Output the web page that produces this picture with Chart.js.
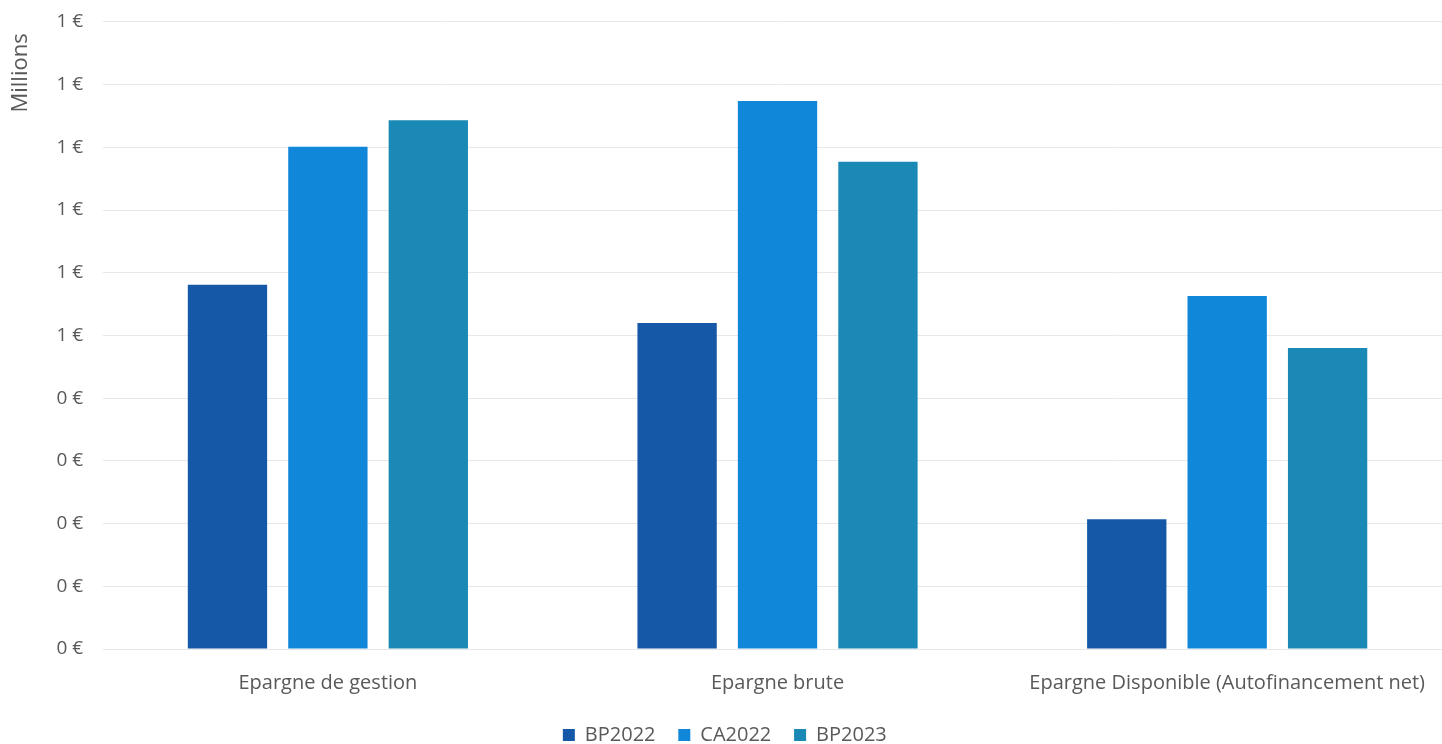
<!DOCTYPE html>
<html lang="fr">
<head>
<meta charset="utf-8">
<script src="https://cdn.jsdelivr.net/npm/chart.js@4"></script>
<style>
    html, body { margin: 0; padding: 0; background: #fff; overflow: hidden; }
    #wrap { width: 1452px; height: 744px; position: relative; }
</style>
</head>
<body>
<div id="wrap"><canvas id="chart"></canvas></div>
<script>
// catégories et séries (en millions d'euros)
const categories = ["Epargne de gestion", "Epargne brute", "Epargne Disponible (Autofinancement net)"];
const bp2022 = [0.581, 0.520, 0.207];
const ca2022 = [0.801, 0.874, 0.563];
const bp2023 = [0.843, 0.777, 0.480];

const seriesNames = ["BP2022", "CA2022", "BP2023"];
const seriesColors = ["#1558a8", "#1187d9", "#1b89b5"];

const fontFamily = "'Open Sans', 'Noto Sans', sans-serif";
const textColor = "#595959";

new Chart(document.getElementById('chart'), {
    type: 'bar',
    data: {
        labels: categories,
        datasets: [bp2022, ca2022, bp2023].map((vals, i) => ({
            label: seriesNames[i],
            data: vals,
            backgroundColor: seriesColors[i],
            borderWidth: 0,
            categoryPercentage: 0.67,
            barPercentage: 0.79
        }))
    },
    options: {
        responsive: true,
        maintainAspectRatio: false,
        animation: false,
        layout: { padding: { top: 2, right: 0, left: 8, bottom: -11 } },
        plugins: {
            legend: {
                position: 'bottom',
                labels: {
                    boxWidth: 12,
                    boxHeight: 12,
                    padding: 2,
                    color: textColor,
                    font: { family: fontFamily, size: 20 },
                    // espace entre les éléments de légende
                    generateLabels: chart => Chart.defaults.plugins.legend.labels.generateLabels(chart)
                        .map((l, i, arr) => ({ ...l, text: i < arr.length - 1 ? l.text + '    ' : l.text + '  ' }))
                }
            },
            tooltip: { enabled: false }
        },
        scales: {
            x: {
                grid: { display: false },
                border: { display: false },
                ticks: { color: textColor, font: { family: fontFamily, size: 20 }, padding: 14 },
                afterFit: scale => { scale.height += 14; }
            },
            y: {
                min: 0,
                max: 1.0,
                ticks: {
                    stepSize: 0.1,
                    color: textColor,
                    padding: 20,
                    // hauteur de ligne réduite pour que l'axe monte jusqu'en haut
                    font: { family: fontFamily, size: 19, lineHeight: 0.2 },
                    callback: v => Math.round(v) + ' €'
                },
                grid: { color: '#e8e8e8', drawTicks: false },
                border: { display: false },
                title: {
                    display: true,
                    text: 'Millions  ',
                    align: 'end',
                    color: textColor,
                    font: { family: fontFamily, size: 22 },
                    padding: { top: 0, bottom: 2 }
                }
            }
        }
    }
});
</script>
</body>
</html>
